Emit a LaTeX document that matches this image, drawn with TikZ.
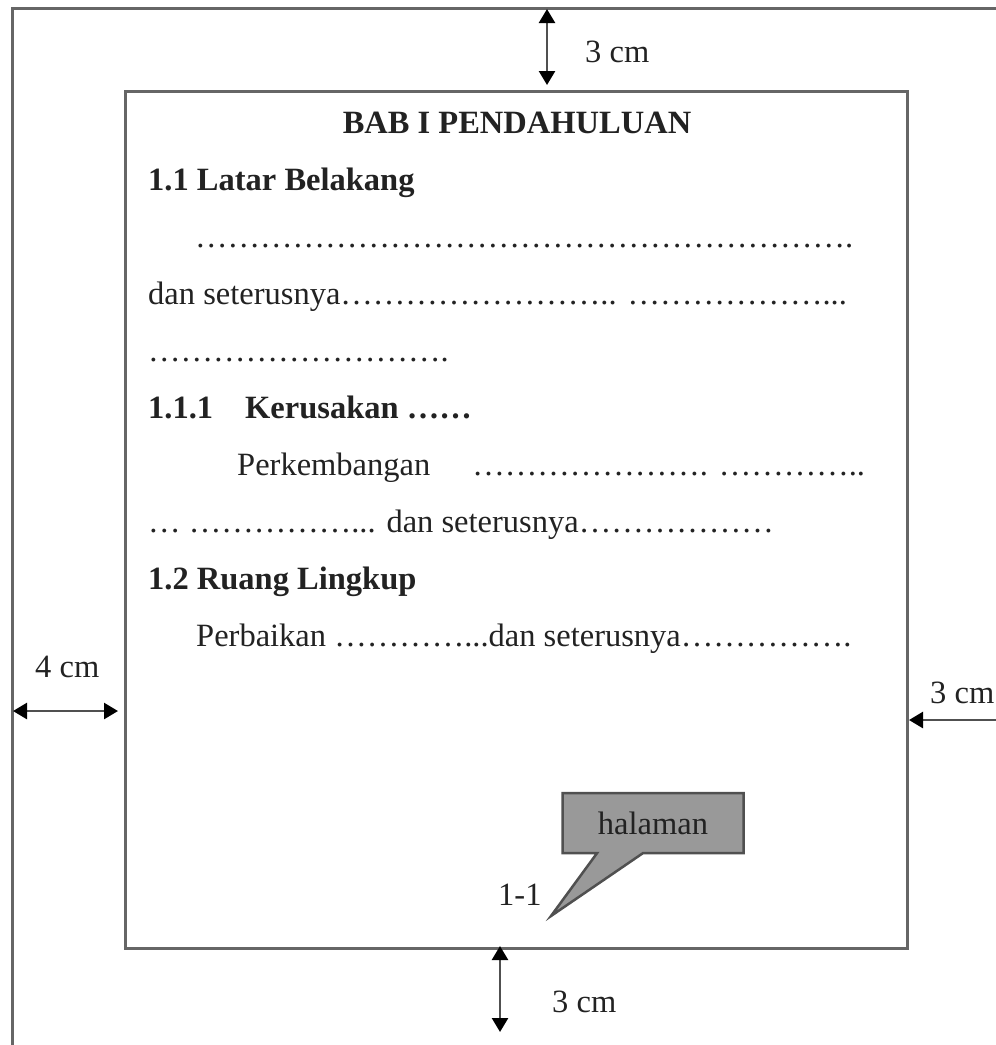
\documentclass[tikz,border=0pt]{standalone}
\usepackage{fontspec}
\setmainfont{Liberation Serif}
\usetikzlibrary{arrows.meta,shapes.callouts}
\definecolor{Garis}{HTML}{666666}
\definecolor{Panah}{HTML}{505050}
\definecolor{Isian}{HTML}{999999}
\definecolor{Teks}{HTML}{222222}

\begin{document}
\begin{tikzpicture}[x=1pt,y=-1pt,
tepi/.style={
	draw=Garis,
	line width=3pt
},
ukuran/.style={
	draw=Panah,
	line width=2.5pt,
	arrows={Triangle[length=14pt,width=16pt,color=black]-Triangle[length=14pt,width=16pt,color=black]}
},
teks/.style={
	anchor=base west,
	inner sep=0pt,
	text=Teks,
	font=\fontsize{32.5}{39}\selectfont
},
judul/.style={
	teks,
	font=\fontsize{32.5}{39}\selectfont\bfseries
},
]

\useasboundingbox (0,0) rectangle (996,1045);
\clip (0,0) rectangle (996,1045);

% halaman kertas dan batas isi
\draw[tepi] (12,1060) -- (12,8) -- (1010,8);
\node[tepi, anchor=north west, minimum width=782pt, minimum height=857pt, inner sep=0pt] (isi) at (124,90) {};

% margin
\coordinate (atas1) at (547,9);
\coordinate (atas2) at (547,85);
\coordinate (kiri1) at (13,711);
\coordinate (kiri2) at (118,711);
\coordinate (kanan1) at (909,720);
\coordinate (kanan2) at (1010,720);
\coordinate (bawah1) at (500,946);
\coordinate (bawah2) at (500,1032);

\draw[ukuran] (atas1) -- (atas2);
\draw[ukuran] (kiri1) -- (kiri2);
\draw[ukuran] (kanan1) -- (kanan2);
\draw[ukuran] (bawah1) -- (bawah2);

\node[teks] (mAtas) at (585,62) {3 cm};
\node[teks] (mKiri) at (35,677) {4 cm};
\node[teks] (mKanan) at (930,703) {3 cm};
\node[teks] (mBawah) at (552,1012) {3 cm};

% isi bab
\node[judul, anchor=base] (bab) at (517,133) {BAB I PENDAHULUAN};
\node[judul] (sub1) at (148,190) {1.1 Latar Belakang};
\node[teks] (par1) at (195,247) {…………………………………………………….};
\node[teks] (par2) at (148,304) {dan seterusnya…………………….. ………………...};
\node[teks] (par3) at (148,361) {……………………….};
\node[judul] (sub11) at (148,418) {1.1.1\hspace{32pt}Kerusakan ……};
\node[teks] (par4) at (237,475) {Perkembangan\hspace{42pt}…………………. …………..};
\node[teks] (par5) at (148,532) {… ……………... dan seterusnya………………};
\node[judul] (sub2) at (148,589) {1.2 Ruang Lingkup};
\node[teks] (par6) at (196,646) {Perbaikan …………...dan seterusnya…………….};

% nomor halaman
\node[teks] (nomor) at (498,905) {1-1};
\coordinate (ujung) at (551,916);
\node[rectangle callout, draw=Panah, fill=Isian, line width=2.5pt,
	minimum width=181pt, minimum height=60pt, text=Teks,
	font=\fontsize{32.5}{39}\selectfont,
	callout absolute pointer={(ujung)}, callout pointer width=46pt] (halaman) at (653,823) {halaman};

\end{tikzpicture}
\end{document}
